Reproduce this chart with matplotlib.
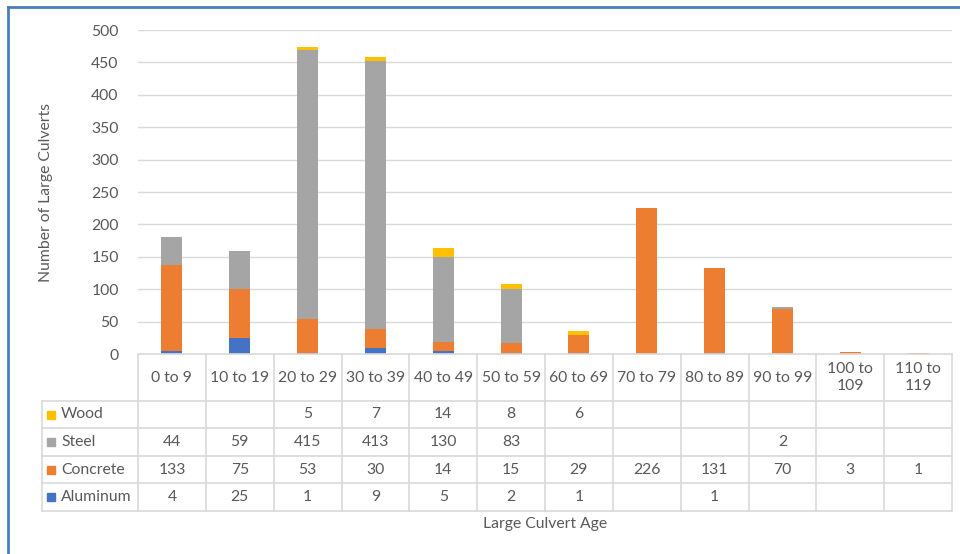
import matplotlib.pyplot as plt
from matplotlib.patches import Rectangle
from matplotlib.lines import Line2D

ages = ["0 to 9", "10 to 19", "20 to 29", "30 to 39", "40 to 49", "50 to 59",
        "60 to 69", "70 to 79", "80 to 89", "90 to 99", "100 to\n109", "110 to\n119"]
aluminum = [4, 25, 1, 9, 5, 2, 1, None, 1, None, None, None]
concrete = [133, 75, 53, 30, 14, 15, 29, 226, 131, 70, 3, 1]
steel = [44, 59, 415, 413, 130, 83, None, None, None, 2, None, None]
wood = [None, None, 5, 7, 14, 8, 6, None, None, None, None, None]

series_names = ["Aluminum", "Concrete", "Steel", "Wood"]
series_vals = [aluminum, concrete, steel, wood]
colors = ["#4472C4", "#ED7D31", "#A5A5A5", "#FFC000"]

plt.rcParams['font.family'] = ['Lato', 'DejaVu Sans']
txt = "#595959"
grid_c = "#D9D9D9"
fs = 11.3

W, H = 960, 554
fig = plt.figure(figsize=(9.6, 5.54), dpi=100)

# pixel helpers
def fx(px):
    return px / W

def fy(py):
    return 1 - py / H

x0, x1 = 138, 952
y_top, y_base = 30, 354
ax = fig.add_axes([fx(x0), fy(y_base), fx(x1) - fx(x0), fy(y_top) - fy(y_base)])

n = len(ages)
bottom = [0] * n
for name, vals, c in zip(series_names, series_vals, colors):
    v = [0 if a is None else a for a in vals]
    ax.bar(range(n), v, bottom=bottom, width=0.31, color=c, zorder=3)
    bottom = [b + a for b, a in zip(bottom, v)]

ax.set_xlim(-0.5, n - 0.5)
ax.set_ylim(0, 500)
ax.set_yticks(range(0, 501, 50))
ax.yaxis.grid(True, color=grid_c, linewidth=1, zorder=0)
ax.set_xticks([])
for s in ax.spines.values():
    s.set_visible(False)
ax.tick_params(axis='y', length=0, labelsize=fs, labelcolor=txt, pad=14)
fig.text(fx(46), fy((y_top + y_base) / 2), "Number of Large Culverts", rotation=90,
         ha='center', va='center', fontsize=fs, color=txt)

# data table below the axis
col_w = (x1 - x0) / n
rows = [401, 428, 456, 483, 511]
lab_x0 = 42

def hline(py, xa, xb):
    fig.add_artist(Line2D([fx(xa), fx(xb)], [fy(py), fy(py)], color=grid_c, lw=1.2))

def vline(px, ya, yb):
    fig.add_artist(Line2D([fx(px), fx(px)], [fy(ya), fy(yb)], color=grid_c, lw=1.2))

hline(y_base, x0, x1)
for r in rows:
    hline(r, lab_x0, x1)
for i in range(n + 1):
    vline(x0 + i * col_w, y_base, rows[-1])
vline(lab_x0, rows[0], rows[-1])

for i, lab in enumerate(ages):
    fig.text(fx(x0 + (i + 0.5) * col_w), fy((y_base + rows[0]) / 2), lab,
             ha='center', va='center', fontsize=fs, color=txt, linespacing=1.2)

table_order = ["Wood", "Steel", "Concrete", "Aluminum"]
for k, name in enumerate(table_order):
    idx = series_names.index(name)
    yc = (rows[k] + rows[k + 1]) / 2
    sq = 8
    fig.add_artist(Rectangle((fx(lab_x0 + 5), fy(yc + sq / 2)), sq / W, sq / H,
                             color=colors[idx], transform=fig.transFigure))
    fig.text(fx(lab_x0 + 19), fy(yc), name, ha='left', va='center',
             fontsize=fs, color=txt)
    for i, v in enumerate(series_vals[idx]):
        if v is not None:
            fig.text(fx(x0 + (i + 0.5) * col_w), fy(yc), str(v),
                     ha='center', va='center', fontsize=fs, color=txt)

fig.text(fx((x0 + x1) / 2), fy(524), "Large Culvert Age", ha='center',
         va='center', fontsize=fs, color=txt)

# outer frame (top and left edges visible)
fig.add_artist(Line2D([fx(8), fx(W)], [fy(7), fy(7)], color="#4A7EBB", lw=2))
fig.add_artist(Line2D([fx(8), fx(8)], [fy(7), fy(H)], color="#4A7EBB", lw=2))

fig.savefig("out.png", dpi=100)
